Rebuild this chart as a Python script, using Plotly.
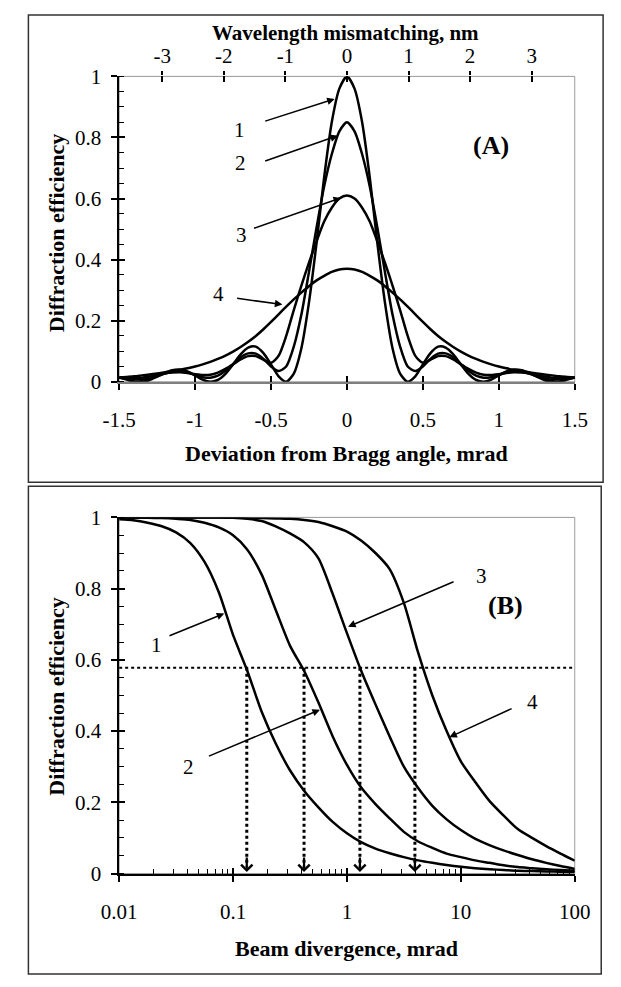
import math
import plotly.graph_objects as go

W, H = 621, 987
FONT = "Liberation Serif"

# ---------------- Panel A data ----------------
dev_mrad = [-1.5, -1.45, -1.4, -1.35, -1.3, -1.25, -1.2, -1.15, -1.1, -1.05,
            -1.0, -0.95, -0.9, -0.85, -0.8, -0.75, -0.7, -0.65, -0.6, -0.55,
            -0.5, -0.45, -0.4, -0.35, -0.3, -0.25, -0.2, -0.15, -0.1, -0.05,
            0.0, 0.05, 0.1, 0.15, 0.2, 0.25, 0.3, 0.35, 0.4, 0.45,
            0.5, 0.55, 0.6, 0.65, 0.7, 0.75, 0.8, 0.85, 0.9, 0.95,
            1.0, 1.05, 1.1, 1.15, 1.2, 1.25, 1.3, 1.35, 1.4, 1.45, 1.5]

eff_A1 = [0.014, 0.007, 0.001, 0.000, 0.006, 0.017, 0.029, 0.038, 0.040, 0.034,
          0.021, 0.007, 0.000, 0.006, 0.026, 0.057, 0.090, 0.112, 0.115, 0.094,
          0.057, 0.018, 0.000, 0.027, 0.110, 0.260, 0.455, 0.670, 0.850, 0.960,
          1.000, 0.960, 0.850, 0.670, 0.455, 0.260, 0.110, 0.027, 0.000, 0.018,
          0.057, 0.094, 0.115, 0.112, 0.090, 0.057, 0.026, 0.006, 0.000, 0.007,
          0.021, 0.034, 0.040, 0.038, 0.029, 0.017, 0.006, 0.000, 0.001, 0.007, 0.014]

eff_A2 = [0.014, 0.011, 0.008, 0.007, 0.011, 0.018, 0.027, 0.033, 0.034, 0.030,
          0.022, 0.015, 0.013, 0.020, 0.036, 0.058, 0.080, 0.093, 0.092, 0.075,
          0.050, 0.035, 0.050, 0.115, 0.220, 0.360, 0.505, 0.640, 0.745, 0.820,
          0.850, 0.820, 0.745, 0.640, 0.505, 0.360, 0.220, 0.115, 0.050, 0.035,
          0.050, 0.075, 0.092, 0.093, 0.080, 0.058, 0.036, 0.020, 0.013, 0.015,
          0.022, 0.030, 0.034, 0.033, 0.027, 0.018, 0.011, 0.007, 0.008, 0.011, 0.014]

eff_A3 = [0.013, 0.012, 0.012, 0.013, 0.017, 0.022, 0.027, 0.030, 0.031, 0.029,
          0.025, 0.022, 0.023, 0.030, 0.042, 0.057, 0.073, 0.084, 0.084, 0.072,
          0.062, 0.085, 0.150, 0.235, 0.315, 0.390, 0.460, 0.525, 0.570, 0.600,
          0.610, 0.600, 0.570, 0.525, 0.460, 0.390, 0.315, 0.235, 0.150, 0.085,
          0.062, 0.072, 0.084, 0.084, 0.073, 0.057, 0.042, 0.030, 0.023, 0.022,
          0.025, 0.029, 0.031, 0.030, 0.027, 0.022, 0.017, 0.013, 0.012, 0.012, 0.013]

eff_A4 = [0.014, 0.016, 0.018, 0.021, 0.024, 0.027, 0.031, 0.035, 0.039, 0.044,
          0.050, 0.057, 0.065, 0.075, 0.086, 0.099, 0.114, 0.131, 0.150, 0.172,
          0.196, 0.221, 0.246, 0.270, 0.292, 0.313, 0.332, 0.347, 0.360, 0.368,
          0.370, 0.368, 0.360, 0.347, 0.332, 0.313, 0.292, 0.270, 0.246, 0.221,
          0.196, 0.172, 0.150, 0.131, 0.114, 0.099, 0.086, 0.075, 0.065, 0.057,
          0.050, 0.044, 0.039, 0.035, 0.031, 0.027, 0.024, 0.021, 0.018, 0.016, 0.014]

wl_range_nm = [-3.7, 3.7]
wl_ticks = [-3, -2, -1, 0, 1, 2, 3]
wl_ticktext = ["-3", "-2", "-1", "0", "1", "2", "3"]
dev_ticks = [-1.5, -1, -0.5, 0, 0.5, 1, 1.5]
dev_ticktext = ["-1.5", "-1", "-0.5", "0", "0.5", "1", "1.5"]
eff_ticks = [0, 0.2, 0.4, 0.6, 0.8, 1]
eff_ticktext = ["0", "0.2", "0.4", "0.6", "0.8", "1"]

# ---------------- Panel B data ----------------
divergence = [0.01, 0.0133, 0.0178, 0.0237, 0.0316, 0.0422, 0.0562, 0.075,
              0.1, 0.133, 0.178, 0.237, 0.316, 0.422, 0.562, 0.75,
              1.0, 1.33, 1.78, 2.37, 3.16, 4.22, 5.62, 7.5,
              10, 13.3, 17.8, 23.7, 31.6, 42.2, 56.2, 75, 100]

eff_B1 = [0.995, 0.992, 0.985, 0.975, 0.958, 0.928, 0.875, 0.790,
          0.670, 0.570, 0.455, 0.365, 0.290, 0.232, 0.186, 0.145,
          0.113, 0.088, 0.070, 0.057, 0.046, 0.037, 0.030, 0.024,
          0.019, 0.015, 0.012, 0.010, 0.008, 0.007, 0.006, 0.005, 0.004]
eff_B2 = [1.000, 1.000, 0.999, 0.998, 0.996, 0.993, 0.985, 0.972,
          0.950, 0.910, 0.840, 0.740, 0.640, 0.568, 0.480, 0.385,
          0.305, 0.242, 0.195, 0.155, 0.117, 0.090, 0.072, 0.056,
          0.046, 0.037, 0.030, 0.023, 0.018, 0.015, 0.012, 0.010, 0.008]
eff_B3 = [1.000, 1.000, 1.000, 1.000, 1.000, 1.000, 1.000, 1.000,
          0.999, 0.996, 0.990, 0.975, 0.955, 0.930, 0.885, 0.785,
          0.675, 0.570, 0.475, 0.385, 0.300, 0.240, 0.190, 0.152,
          0.122, 0.098, 0.080, 0.065, 0.052, 0.040, 0.030, 0.021, 0.013]
eff_B4 = [1.000, 1.000, 1.000, 1.000, 1.000, 1.000, 1.000, 1.000,
          0.999, 0.999, 0.998, 0.997, 0.996, 0.993, 0.987, 0.975,
          0.960, 0.935, 0.900, 0.855, 0.760, 0.620, 0.500, 0.400,
          0.315, 0.258, 0.204, 0.163, 0.125, 0.100, 0.077, 0.056, 0.036]

threshold = 0.578
threshold_span = [0.01, 100]
crossing_div = [0.132, 0.42, 1.3, 3.95]
div_ticks = [0.01, 0.1, 1, 10, 100]
div_ticktext = ["0.01", "0.1", "1", "10", "100"]
div_minor = [m * d for d in (0.01, 0.1, 1, 10) for m in range(2, 10)]

# ---------------- layout helpers ----------------
def fx(p):
    return p / W

def fy(p):
    return 1 - p / H

xdomA = [fx(107), fx(589)]
ydomA = [fy(379), fy(66)]
xdomB = [fx(107), fx(589)]
ydomB = [fy(883), fy(518)]

tickfont = dict(family=FONT, size=21, color="black")
curve_line = dict(color="black", width=2.5, shape="spline", smoothing=0.7)

fig = go.Figure()
for ys in (eff_A1, eff_A2, eff_A3, eff_A4):
    fig.add_trace(go.Scatter(x=dev_mrad, y=ys, mode="lines", line=curve_line,
                             xaxis="x", yaxis="y", showlegend=False, hoverinfo="skip"))

# threshold + drop lines in panel B
fig.add_trace(go.Scatter(x=threshold_span, y=[threshold, threshold], mode="lines",
                         line=dict(color="black", width=2, dash="dot"),
                         xaxis="x2", yaxis="y2", showlegend=False, hoverinfo="skip"))
for xc in crossing_div:
    fig.add_trace(go.Scatter(x=[xc, xc], y=[threshold, 0.02], mode="lines",
                             line=dict(color="black", width=3, dash="dot"),
                             xaxis="x2", yaxis="y2", showlegend=False, hoverinfo="skip"))

for ys in (eff_B1, eff_B2, eff_B3, eff_B4):
    fig.add_trace(go.Scatter(x=divergence, y=ys, mode="lines", line=curve_line,
                             xaxis="x2", yaxis="y2", showlegend=False, hoverinfo="skip"))

# empty traces so that every overlay axis is instantiated
for xa, ya in (("x3", "y"), ("x4", "y"), ("x", "y3"), ("x5", "y"), ("x6", "y2"), ("x2", "y4")):
    fig.add_trace(go.Scatter(x=[None], y=[None], mode="lines", xaxis=xa, yaxis=ya,
                             showlegend=False, hoverinfo="skip"))

common = dict(showgrid=False, zeroline=False, tickfont=tickfont, tickcolor="black",
              tickwidth=1.5)
inside_overlay = dict(showgrid=False, zeroline=False, showline=False, showticklabels=False,
                      ticks="inside", ticklen=6, tickwidth=1.5, tickcolor="black")

fig.update_layout(
    width=W, height=H,
    margin=dict(l=0, r=0, t=0, b=0),
    paper_bgcolor="white", plot_bgcolor="white",
    font=dict(family=FONT, color="black"),
    xaxis=dict(domain=xdomA, anchor="y", range=[-1.5, 1.5], tickmode="array",
               tickvals=dev_ticks, ticktext=dev_ticktext, ticks="outside", ticklen=6,
               showline=True, linecolor="#7f7f7f", linewidth=2,
               ticklabelstandoff=12, **common),
    yaxis=dict(domain=ydomA, anchor="x", range=[0, 1], tickmode="array",
               tickvals=eff_ticks, ticktext=eff_ticktext, ticks="outside", ticklen=6,
               showline=True, linecolor="black", linewidth=1.5,
               minor=dict(dtick=0.05, ticks="inside", ticklen=5, tickwidth=1.2, tickcolor="black"),
               ticklabelstandoff=6, **common),
    xaxis3=dict(overlaying="x", anchor="y", side="top", range=wl_range_nm,
                tickmode="array", tickvals=wl_ticks, ticktext=wl_ticktext,
                ticks="outside", ticklen=4,
                showline=False, ticklabelstandoff=0, **common),
    xaxis4=dict(overlaying="x", anchor="y", range=[-1.5, 1.5], tickmode="array",
                tickvals=dev_ticks, **inside_overlay),
    xaxis5=dict(overlaying="x", anchor="y", side="top", range=wl_range_nm,
                tickmode="array", tickvals=wl_ticks, **inside_overlay),
    yaxis3=dict(overlaying="y", anchor="x", range=[0, 1], tickmode="array",
                tickvals=eff_ticks, **inside_overlay),
    xaxis2=dict(domain=xdomB, anchor="y2", type="log", range=[-2, 2], tickmode="array",
                tickvals=div_ticks, ticktext=div_ticktext, ticks="outside", ticklen=6,
                showline=True, linecolor="black", linewidth=2,
                minor=dict(tickvals=div_minor, ticks="inside", ticklen=5, tickwidth=1.2,
                           tickcolor="black"),
                ticklabelstandoff=12, **common),
    yaxis2=dict(domain=ydomB, anchor="x2", range=[0, 1], tickmode="array",
                tickvals=eff_ticks, ticktext=eff_ticktext, ticks="outside", ticklen=6,
                showline=True, linecolor="black", linewidth=1.5,
                minor=dict(dtick=0.05, ticks="inside", ticklen=5, tickwidth=1.2, tickcolor="black"),
                ticklabelstandoff=6, **common),
    xaxis6=dict(overlaying="x2", anchor="y2", type="log", range=[-2, 2], tickmode="array",
                tickvals=div_ticks, **inside_overlay),
    yaxis4=dict(overlaying="y2", anchor="x2", range=[0, 1], tickmode="array",
                tickvals=eff_ticks, **inside_overlay),
)

shapes = [
    dict(type="rect", xref="x domain", yref="y domain", x0=0, x1=1, y0=0, y1=1,
         line=dict(color="#9a9a9a", width=1), layer="below"),
    dict(type="rect", xref="x2 domain", yref="y2 domain", x0=0, x1=1, y0=0, y1=1,
         line=dict(color="#9a9a9a", width=1), layer="below"),
    dict(type="rect", xref="paper", yref="paper", x0=fx(11), x1=fx(619), y0=fy(482), y1=fy(3),
         line=dict(color="#333333", width=1.5)),
    dict(type="rect", xref="paper", yref="paper", x0=fx(11), x1=fx(617), y0=fy(986), y1=fy(486),
         line=dict(color="#333333", width=1.5)),
]
fig.update_layout(shapes=shapes)

ann = []
def ptext(text, px, py, size=22, angle=0):
    ann.append(dict(text=f"<b>{text}</b>", x=fx(px), y=fy(py),
                    xref="paper", yref="paper", showarrow=False, textangle=angle,
                    font=dict(family=FONT, size=size, color="black"),
                    xanchor="center", yanchor="middle"))

ptext("Wavelength mismatching, nm", 346, 22, size=21)
ptext("Deviation from Bragg angle, mrad", 348, 452)
ptext("Diffraction efficiency", 41, 226, angle=-90)
ptext("Diffraction efficiency", 41, 701, angle=-90)
ptext("Beam divergence, mrad", 347, 960)

labels_A = [("1", -0.707, 0.825, -0.548, 0.852, -0.081, 0.926),
            ("2", -0.700, 0.716, -0.548, 0.721, -0.060, 0.806),
            ("3", -0.696, 0.480, -0.622, 0.501, -0.039, 0.602),
            ("4", -0.848, 0.288, -0.733, 0.274, -0.425, 0.253)]
for t, lx, ly, tx, ty, hx, hy in labels_A:
    ann.append(dict(text=t, x=lx, y=ly, xref="x", yref="y", showarrow=False,
                    font=dict(family=FONT, size=21, color="black")))
    ann.append(dict(text="", x=hx, y=hy, ax=tx, ay=ty, xref="x", yref="y",
                    axref="x", ayref="y", showarrow=True, arrowhead=2, arrowsize=1,
                    arrowwidth=1.5, arrowcolor="black"))
ann.append(dict(text="<b>(A)</b>", x=0.95, y=0.774, xref="x", yref="y", showarrow=False,
                font=dict(family=FONT, size=26, color="black")))

labels_B = [("1", -1.670, 0.643, -1.571, 0.666, -1.077, 0.730),
            ("2", -1.389, 0.300, -1.225, 0.328, -0.237, 0.460),
            ("3", 1.179, 0.835, 0.949, 0.821, 0.010, 0.693),
            ("4", 1.630, 0.483, 1.459, 0.465, 0.899, 0.383)]
for t, lx, ly, tx, ty, hx, hy in labels_B:
    ann.append(dict(text=t, x=lx, y=ly, xref="x2", yref="y2", showarrow=False,
                    font=dict(family=FONT, size=21, color="black")))
    ann.append(dict(text="", x=hx, y=hy, ax=tx, ay=ty, xref="x2", yref="y2",
                    axref="x2", ayref="y2", showarrow=True, arrowhead=2, arrowsize=1,
                    arrowwidth=1.5, arrowcolor="black"))
ann.append(dict(text="<b>(B)</b>", x=1.393, y=0.753, xref="x2", yref="y2", showarrow=False,
                font=dict(family=FONT, size=26, color="black")))

for xc in crossing_div:
    ann.append(dict(text="", x=math.log10(xc), y=0.004, xref="x2", yref="y2",
                    ax=0, ay=-16, showarrow=True, arrowhead=4, arrowsize=1,
                    arrowwidth=2.2, arrowcolor="black"))

fig.update_layout(annotations=ann)
fig.write_html("out.html",
               post_script="document.body.style.margin='0';document.body.style.overflow='hidden';")
